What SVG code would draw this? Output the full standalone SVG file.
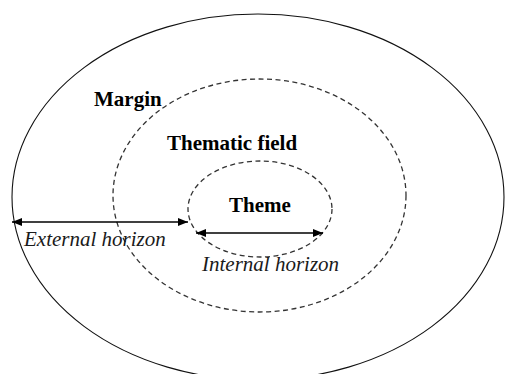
<svg xmlns="http://www.w3.org/2000/svg" width="505" height="374" viewBox="0 0 505 374">
<defs>
<marker id="ah" viewBox="0 0 10 8" refX="10" refY="4" markerWidth="10" markerHeight="8" markerUnits="userSpaceOnUse" orient="auto-start-reverse">
<path d="M0,0 L10,4 L0,8 z" fill="#000"/>
</marker>
</defs>
<style>
.solid{fill:none;stroke:#111;stroke-width:1.1}
.dash{fill:none;stroke:#333;stroke-width:1.3;stroke-dasharray:5 3.5}
.lbl{font-family:"Liberation Serif","Times New Roman",serif;font-weight:bold;font-size:21px;fill:#000}
.ital{font-family:"Liberation Serif","Times New Roman",serif;font-style:italic;font-size:21px;fill:#1a1a1a}
.arr{stroke:#000;stroke-width:1.6;fill:none;marker-start:url(#ah);marker-end:url(#ah)}
</style>
<rect width="505" height="374" fill="#fff"/>
<g id="margin">
<ellipse class="solid" cx="258" cy="197" rx="246" ry="183"/>
<text class="lbl" x="94" y="106">Margin</text>
</g>
<g id="thematic-field">
<ellipse class="dash" cx="259.5" cy="195.5" rx="146.5" ry="116.5"/>
<text class="lbl" x="167" y="150">Thematic field</text>
</g>
<g id="theme">
<ellipse class="dash" cx="260" cy="209" rx="72" ry="48"/>
<text class="lbl" x="229" y="212">Theme</text>
</g>
<g id="connectors">
<line class="arr" x1="12" y1="222" x2="188" y2="222"/>
<line class="arr" x1="196" y1="233" x2="323" y2="233"/>
</g>
<g id="labels">
<text class="ital" x="24" y="246">External horizon</text>
<text class="ital" x="202" y="271">Internal horizon</text>
</g>
</svg>
